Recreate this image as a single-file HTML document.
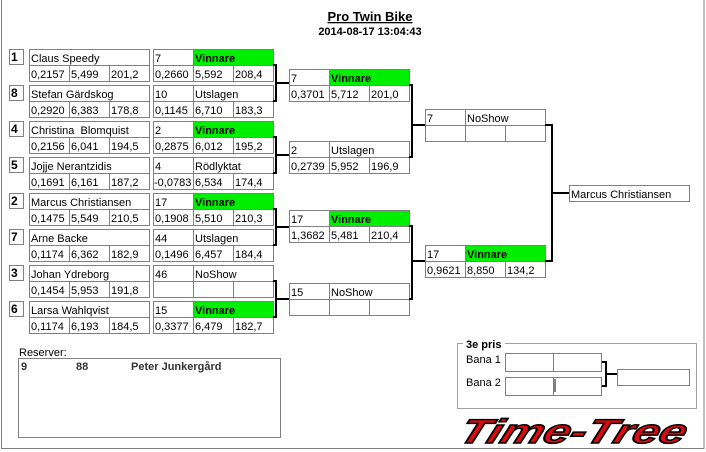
<!DOCTYPE html>
<html><head><meta charset="utf-8"><style>
body{margin:0;background:#fff;}
svg{display:block;font-family:"Liberation Sans",sans-serif;font-size:11px;}
.b{fill:#fff;stroke:#808080;stroke-width:1}
.k{stroke:#000;stroke-width:2;fill:none}
.g{fill:#00ee00}
</style></head><body>
<svg width="706" height="452" viewBox="0 0 706 452" xmlns="http://www.w3.org/2000/svg">
<rect x="0" y="0" width="706" height="452" fill="#fff"/>
<rect x="1.5" y="-2" width="702.5" height="450.5" fill="none" stroke="#808080"/>
<text x="370" y="21" text-anchor="middle" font-weight="bold" font-size="13" text-decoration="underline">Pro Twin Bike</text>
<text x="370" y="35" text-anchor="middle" font-weight="bold" font-size="11">2014-08-17 13:04:43</text>

<g font-weight="bold" font-size="12">
<rect class="b" x="9.5" y="49.5" width="14" height="15"/><text x="11" y="61">1</text>
<rect class="b" x="9.5" y="85.5" width="14" height="15"/><text x="11" y="97">8</text>
<rect class="b" x="9.5" y="121.5" width="14" height="15"/><text x="11" y="133">4</text>
<rect class="b" x="9.5" y="157.5" width="14" height="15"/><text x="11" y="169">5</text>
<rect class="b" x="9.5" y="193.5" width="14" height="15"/><text x="11" y="205">2</text>
<rect class="b" x="9.5" y="229.5" width="14" height="15"/><text x="11" y="241">7</text>
<rect class="b" x="9.5" y="265.5" width="14" height="15"/><text x="11" y="277">3</text>
<rect class="b" x="9.5" y="301.5" width="14" height="15"/><text x="11" y="313">6</text>
</g>

<g>
<g transform="translate(29,49)"><rect class="b" x=".5" y=".5" width="120" height="32"/><path d="M0 16.5H121M40.5 16V32M80.5 16V32" stroke="#808080"/><text x="2" y="13">Claus Speedy</text><text x="2" y="29">0,2157</text><text x="42" y="29">5,499</text><text x="82" y="29">201,2</text></g>
<g transform="translate(29,85)"><rect class="b" x=".5" y=".5" width="120" height="32"/><path d="M0 16.5H121M40.5 16V32M80.5 16V32" stroke="#808080"/><text x="2" y="13">Stefan Gärdskog</text><text x="2" y="29">0,2920</text><text x="42" y="29">6,383</text><text x="82" y="29">178,8</text></g>
<g transform="translate(29,121)"><rect class="b" x=".5" y=".5" width="120" height="32"/><path d="M0 16.5H121M40.5 16V32M80.5 16V32" stroke="#808080"/><text x="2" y="13" xml:space="preserve">Christina  Blomquist</text><text x="2" y="29">0,2156</text><text x="42" y="29">6,041</text><text x="82" y="29">194,5</text></g>
<g transform="translate(29,157)"><rect class="b" x=".5" y=".5" width="120" height="32"/><path d="M0 16.5H121M40.5 16V32M80.5 16V32" stroke="#808080"/><text x="2" y="13">Jojje Nerantzidis</text><text x="2" y="29">0,1691</text><text x="42" y="29">6,161</text><text x="82" y="29">187,2</text></g>
<g transform="translate(29,193)"><rect class="b" x=".5" y=".5" width="120" height="32"/><path d="M0 16.5H121M40.5 16V32M80.5 16V32" stroke="#808080"/><text x="2" y="13">Marcus Christiansen</text><text x="2" y="29">0,1475</text><text x="42" y="29">5,549</text><text x="82" y="29">210,5</text></g>
<g transform="translate(29,229)"><rect class="b" x=".5" y=".5" width="120" height="32"/><path d="M0 16.5H121M40.5 16V32M80.5 16V32" stroke="#808080"/><text x="2" y="13">Arne Backe</text><text x="2" y="29">0,1174</text><text x="42" y="29">6,362</text><text x="82" y="29">182,9</text></g>
<g transform="translate(29,265)"><rect class="b" x=".5" y=".5" width="120" height="32"/><path d="M0 16.5H121M40.5 16V32M80.5 16V32" stroke="#808080"/><text x="2" y="13">Johan Ydreborg</text><text x="2" y="29">0,1454</text><text x="42" y="29">5,953</text><text x="82" y="29">191,8</text></g>
<g transform="translate(29,301)"><rect class="b" x=".5" y=".5" width="120" height="32"/><path d="M0 16.5H121M40.5 16V32M80.5 16V32" stroke="#808080"/><text x="2" y="13">Larsa Wahlqvist</text><text x="2" y="29">0,1174</text><text x="42" y="29">6,193</text><text x="82" y="29">184,5</text></g>
</g>

<g>
<g transform="translate(153,49)"><rect class="b" x=".5" y=".5" width="120" height="32"/><rect class="g" x="41" y="1" width="79" height="15"/><path d="M0 16.5H121M40.5 0V32M80.5 16V32" stroke="#808080"/><text x="2" y="13">7</text><text x="42" y="13" font-weight="bold">Vinnare</text><text x="2" y="29">0,2660</text><text x="42" y="29">5,592</text><text x="82" y="29">208,4</text></g>
<g transform="translate(153,85)"><rect class="b" x=".5" y=".5" width="120" height="32"/><path d="M0 16.5H121M40.5 0V32M80.5 16V32" stroke="#808080"/><text x="2" y="13">10</text><text x="42" y="13">Utslagen</text><text x="2" y="29">0,1145</text><text x="42" y="29">6,710</text><text x="82" y="29">183,3</text></g>
<g transform="translate(153,121)"><rect class="b" x=".5" y=".5" width="120" height="32"/><rect class="g" x="41" y="1" width="79" height="15"/><path d="M0 16.5H121M40.5 0V32M80.5 16V32" stroke="#808080"/><text x="2" y="13">2</text><text x="42" y="13" font-weight="bold">Vinnare</text><text x="2" y="29">0,2875</text><text x="42" y="29">6,012</text><text x="82" y="29">195,2</text></g>
<g transform="translate(153,157)"><rect class="b" x=".5" y=".5" width="120" height="32"/><path d="M0 16.5H121M40.5 0V32M80.5 16V32" stroke="#808080"/><text x="2" y="13">4</text><text x="42" y="13">Rödlyktat</text><text x="1" y="29">-0,0783</text><text x="42" y="29">6,534</text><text x="82" y="29">174,4</text></g>
<g transform="translate(153,193)"><rect class="b" x=".5" y=".5" width="120" height="32"/><rect class="g" x="41" y="1" width="79" height="15"/><path d="M0 16.5H121M40.5 0V32M80.5 16V32" stroke="#808080"/><text x="2" y="13">17</text><text x="42" y="13" font-weight="bold">Vinnare</text><text x="2" y="29">0,1908</text><text x="42" y="29">5,510</text><text x="82" y="29">210,3</text></g>
<g transform="translate(153,229)"><rect class="b" x=".5" y=".5" width="120" height="32"/><path d="M0 16.5H121M40.5 0V32M80.5 16V32" stroke="#808080"/><text x="2" y="13">44</text><text x="42" y="13">Utslagen</text><text x="2" y="29">0,1496</text><text x="42" y="29">6,457</text><text x="82" y="29">184,4</text></g>
<g transform="translate(153,265)"><rect class="b" x=".5" y=".5" width="120" height="32"/><path d="M0 16.5H121M40.5 0V32M80.5 16V32" stroke="#808080"/><text x="2" y="13">46</text><text x="42" y="13">NoShow</text></g>
<g transform="translate(153,301)"><rect class="b" x=".5" y=".5" width="120" height="32"/><rect class="g" x="41" y="1" width="79" height="15"/><path d="M0 16.5H121M40.5 0V32M80.5 16V32" stroke="#808080"/><text x="2" y="13">15</text><text x="42" y="13" font-weight="bold">Vinnare</text><text x="2" y="29">0,3377</text><text x="42" y="29">6,479</text><text x="82" y="29">182,7</text></g>
</g>

<g>
<g transform="translate(289,69)"><rect class="b" x=".5" y=".5" width="120" height="32"/><rect class="g" x="41" y="1" width="79" height="15"/><path d="M0 16.5H121M40.5 0V32M80.5 16V32" stroke="#808080"/><text x="2" y="13">7</text><text x="42" y="13" font-weight="bold">Vinnare</text><text x="2" y="29">0,3701</text><text x="42" y="29">5,712</text><text x="82" y="29">201,0</text></g>
<g transform="translate(289,141)"><rect class="b" x=".5" y=".5" width="120" height="32"/><path d="M0 16.5H121M40.5 0V32M80.5 16V32" stroke="#808080"/><text x="2" y="13">2</text><text x="42" y="13">Utslagen</text><text x="2" y="29">0,2739</text><text x="42" y="29">5,952</text><text x="82" y="29">196,9</text></g>
<g transform="translate(289,210)"><rect class="b" x=".5" y=".5" width="120" height="32"/><rect class="g" x="41" y="1" width="79" height="15"/><path d="M0 16.5H121M40.5 0V32M80.5 16V32" stroke="#808080"/><text x="2" y="13">17</text><text x="42" y="13" font-weight="bold">Vinnare</text><text x="2" y="29">1,3682</text><text x="42" y="29">5,481</text><text x="82" y="29">210,4</text></g>
<g transform="translate(289,283)"><rect class="b" x=".5" y=".5" width="120" height="32"/><path d="M0 16.5H121M40.5 0V32M80.5 16V32" stroke="#808080"/><text x="2" y="13">15</text><text x="42" y="13">NoShow</text></g>
</g>

<g transform="translate(425,109)"><rect class="b" x=".5" y=".5" width="120" height="32"/><path d="M0 16.5H121M40.5 0V32M80.5 16V32" stroke="#808080"/><text x="2" y="13">7</text><text x="42" y="13">NoShow</text></g>
<g transform="translate(425,245)"><rect class="b" x=".5" y=".5" width="120" height="32"/><rect class="g" x="41" y="1" width="79" height="15"/><path d="M0 16.5H121M40.5 0V32M80.5 16V32" stroke="#808080"/><text x="2" y="13">17</text><text x="42" y="13" font-weight="bold">Vinnare</text><text x="2" y="29">0,9621</text><text x="42" y="29">8,850</text><text x="82" y="29">134,2</text></g>
<g transform="translate(569,185)"><rect class="b" x=".5" y=".5" width="120" height="16"/><text x="2" y="13">Marcus Christiansen</text></g>

<g class="k">
<path d="M273 65H276V101H273M276 83H289"/>
<path d="M273 137H276V173H273M276 155H289"/>
<path d="M273 209H276V245H273M276 227H289"/>
<path d="M273 281H276V317H273M276 299H289"/>
<path d="M409 85H412V157H409M412 125H425"/>
<path d="M409 226H412V299H409M412 261H425"/>
<path d="M545 125H552V261H545M552 193H569"/>
</g>

<text x="19" y="356">Reserver:</text>
<rect class="b" x="18.5" y="358.5" width="262" height="79"/>
<text x="21" y="370" font-weight="bold" fill="#333">9</text>
<text x="76" y="370" font-weight="bold" fill="#333">88</text>
<text x="131" y="370" font-weight="bold" fill="#333">Peter Junkergård</text>

<rect x="457.5" y="343.5" width="239" height="65" fill="none" stroke="#a0a0a0"/>
<rect x="463" y="337" width="42" height="12" fill="#fff"/>
<text x="466" y="348" font-weight="bold">3e pris</text>
<text x="466" y="363">Bana 1</text>
<text x="466" y="386">Bana 2</text>
<g stroke="#808080" fill="#fff">
<rect x="505.5" y="353.5" width="96" height="18"/><line x1="553.5" y1="353" x2="553.5" y2="372"/>
<rect x="505.5" y="377.5" width="96" height="18"/><line x1="553.5" y1="377" x2="553.5" y2="396"/>
<rect x="617.5" y="369.5" width="72" height="16"/>
</g>
<line x1="555" y1="379" x2="555" y2="392" stroke="#000"/>
<path class="k" d="M602 362H606V386H602M606 374H617"/>

<text x="575" y="443" text-anchor="middle" font-size="34" font-weight="bold" font-style="italic" fill="#dd0a10" stroke="#000" stroke-width="1.5" textLength="226" lengthAdjust="spacingAndGlyphs" transform="skewX(-20) translate(156,0)">Time-Tree</text>
</svg>
</body></html>
